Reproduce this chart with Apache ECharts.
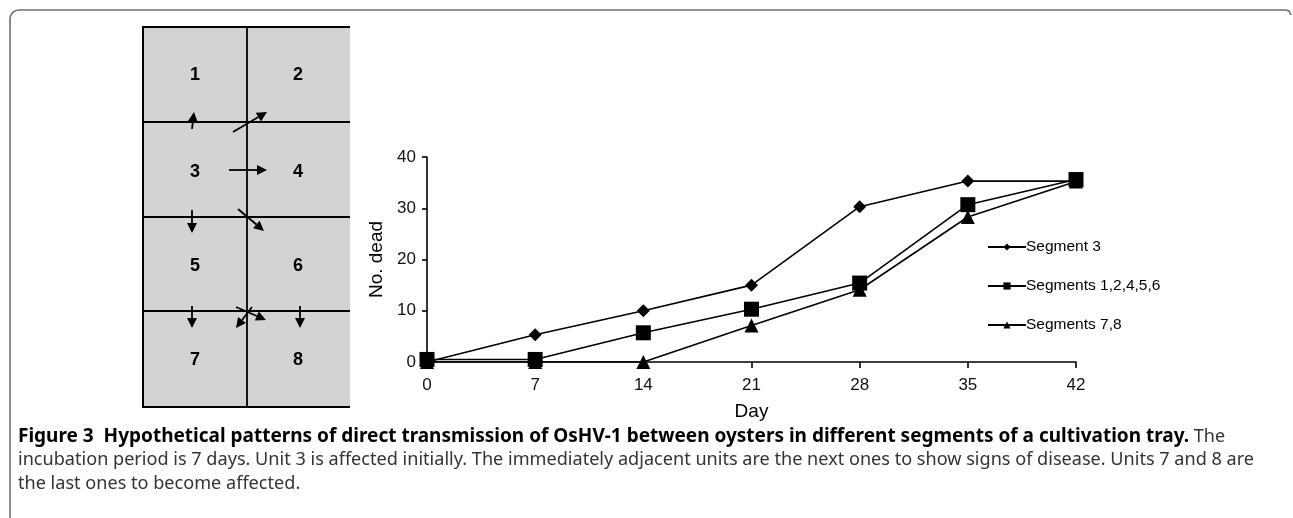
<!DOCTYPE html>
<html>
<head>
<meta charset="utf-8">
<script src="https://cdn.jsdelivr.net/npm/echarts@6/dist/echarts.min.js"></script>
<style>
  html, body { margin: 0; padding: 0; background: #fff; }
  #main { width: 1293px; height: 518px; }
</style>
</head>
<body>
<div id="main"></div>
<script>
// data
const days = [0, 7, 14, 21, 28, 35, 42];
const segment3 = [0, 5.3, 10, 15, 30.3, 35.3, 35.3];
const segments12456 = [0.5, 0.5, 5.7, 10.3, 15.4, 30.7, 35.6];
const segments78 = [0, 0, 0, 7.1, 14.1, 28.3, 35.2];
const yTicks = [0, 10, 20, 30, 40];

const seriesNames = ['Segment 3', 'Segments 1,2,4,5,6', 'Segments 7,8'];

function pairs(vals) {
  return days.map((d, i) => [d, vals[i]]);
}

// tray diagram (left panel)
const trayLabels = ['1', '2', '3', '4', '5', '6', '7', '8'];
const trayCols = [195, 298];
const trayRows = [75, 172, 266, 360];

const arrows = [
  [192, 129, 194, 112],
  [233, 132, 267, 112],
  [229, 170, 267, 170],
  [192, 210, 192, 233],
  [238, 209, 264, 231],
  [192, 306, 192, 328],
  [300, 306, 300, 328],
  [236, 307, 266, 320],
  [252, 307, 236, 328]
];

function arrowGraphics(a) {
  const [x1, y1, x2, y2] = a;
  const ang = Math.atan2(y2 - y1, x2 - x1);
  const L = 10, W = 5;
  const bx = x2 - L * Math.cos(ang), by = y2 - L * Math.sin(ang);
  const nx = -Math.sin(ang) * W, ny = Math.cos(ang) * W;
  return [
    { type: 'line', shape: { x1: x1, y1: y1, x2: bx, y2: by }, style: { stroke: '#000', lineWidth: 1.8 } },
    { type: 'polygon', shape: { points: [[x2, y2], [bx + nx, by + ny], [bx - nx, by - ny]] }, style: { fill: '#000' } }
  ];
}

const graphics = [];
// outer frame
const frameStyle = { stroke: '#6e6e6e', lineWidth: 1.6, fill: null };
graphics.push({ type: 'line', shape: { x1: 10, y1: 518, x2: 10, y2: 19 }, style: frameStyle });
graphics.push({ type: 'arc', shape: { cx: 19, cy: 19, r: 9, startAngle: Math.PI, endAngle: Math.PI * 1.5 }, style: frameStyle });
graphics.push({ type: 'line', shape: { x1: 19, y1: 10, x2: 1286, y2: 10 }, style: frameStyle });
graphics.push({ type: 'polyline', shape: { points: [[1286, 10], [1289, 11], [1291, 15]] }, style: frameStyle });
// tray
graphics.push({ type: 'rect', shape: { x: 143, y: 27, width: 207, height: 380 }, style: { fill: '#d3d3d3' } });
graphics.push({ type: 'polyline', shape: { points: [[350, 27], [143, 27], [143, 407], [350, 407]] }, style: { stroke: '#000', lineWidth: 2, fill: null } });
graphics.push({ type: 'line', shape: { x1: 247, y1: 27, x2: 247, y2: 407 }, style: { stroke: '#000', lineWidth: 1.8 } });
[122, 217, 311].forEach(y => {
  graphics.push({ type: 'line', shape: { x1: 143, y1: y, x2: 350, y2: y }, style: { stroke: '#000', lineWidth: 1.8 } });
});
trayLabels.forEach((t, i) => {
  graphics.push({
    type: 'text',
    style: {
      text: t, x: trayCols[i % 2], y: trayRows[Math.floor(i / 2)],
      fill: '#000', font: 'bold 18px "Liberation Sans", Arial, sans-serif',
      align: 'center', verticalAlign: 'middle'
    }
  });
});
arrows.forEach(a => arrowGraphics(a).forEach(g => graphics.push(g)));
// caption
graphics.push({
  type: 'text',
  style: {
    x: 18, y: 437, verticalAlign: 'middle',
    text: '{b|Figure 3  Hypothetical patterns of direct transmission of OsHV-1 between oysters in different segments of a cultivation tray.}{n| The}',
    rich: {
      b: { font: 'bold 19px "Noto Sans", sans-serif', fill: '#000' },
      n: { font: '18px "Noto Sans", sans-serif', fill: '#333' }
    }
  }
});
graphics.push({
  type: 'text',
  style: {
    x: 18, y: 460, verticalAlign: 'middle', fill: '#333',
    font: '18.1px "Noto Sans", sans-serif',
    text: 'incubation period is 7 days. Unit 3 is affected initially. The immediately adjacent units are the next ones to show signs of disease. Units 7 and 8 are'
  }
});
graphics.push({
  type: 'text',
  style: {
    x: 18, y: 484, verticalAlign: 'middle', fill: '#333',
    font: '18.1px "Noto Sans", sans-serif',
    text: 'the last ones to become affected.'
  }
});

const chart = echarts.init(document.getElementById('main'));
const symbols = ['diamond', 'rect', 'triangle'];
const symbolSizes = [13, 15, 14];
const data = [segment3, segments12456, segments78];

const option = {
  animation: false,
  textStyle: { fontFamily: '"Liberation Sans", Arial, sans-serif' },
  grid: { left: 427, right: 217, top: 157, bottom: 156 },
  xAxis: {
    type: 'value', min: 0, max: 42, interval: 7,
    name: 'Day', nameLocation: 'middle', nameGap: 40,
    nameTextStyle: { fontSize: 19, color: '#000' },
    axisLine: { lineStyle: { color: '#000', width: 1.6 } },
    axisTick: { show: true, length: 6, lineStyle: { color: '#000', width: 1.6 } },
    axisLabel: { fontSize: 17, color: '#111', margin: 15 },
    splitLine: { show: false }
  },
  yAxis: {
    type: 'value', min: yTicks[0], max: yTicks[yTicks.length - 1], interval: 10,
    name: 'No. dead', nameLocation: 'middle', nameGap: 40,
    nameTextStyle: { fontSize: 19, color: '#000' },
    axisLine: { show: true, lineStyle: { color: '#000', width: 1.6 } },
    axisTick: { show: true, length: 5, lineStyle: { color: '#000', width: 1.6 } },
    axisLabel: { fontSize: 17, color: '#111', margin: 11 },
    splitLine: { show: false }
  },
  legend: {
    orient: 'vertical', left: 982, top: 233,
    itemWidth: 38, itemHeight: 9, itemGap: 21,
    textStyle: { fontSize: 15.5, lineHeight: 18, color: '#000', padding: [0, 0, 0, -5] },
    data: seriesNames
  },
  series: seriesNames.map((n, i) => ({
    name: n, type: 'line',
    data: pairs(data[i]),
    symbol: symbols[i], symbolSize: symbolSizes[i],
    lineStyle: { color: '#000', width: 1.6 },
    itemStyle: { color: '#000' },
    z: 3 - i
  })),
  graphic: graphics
};
chart.setOption(option);
</script>
</body>
</html>
